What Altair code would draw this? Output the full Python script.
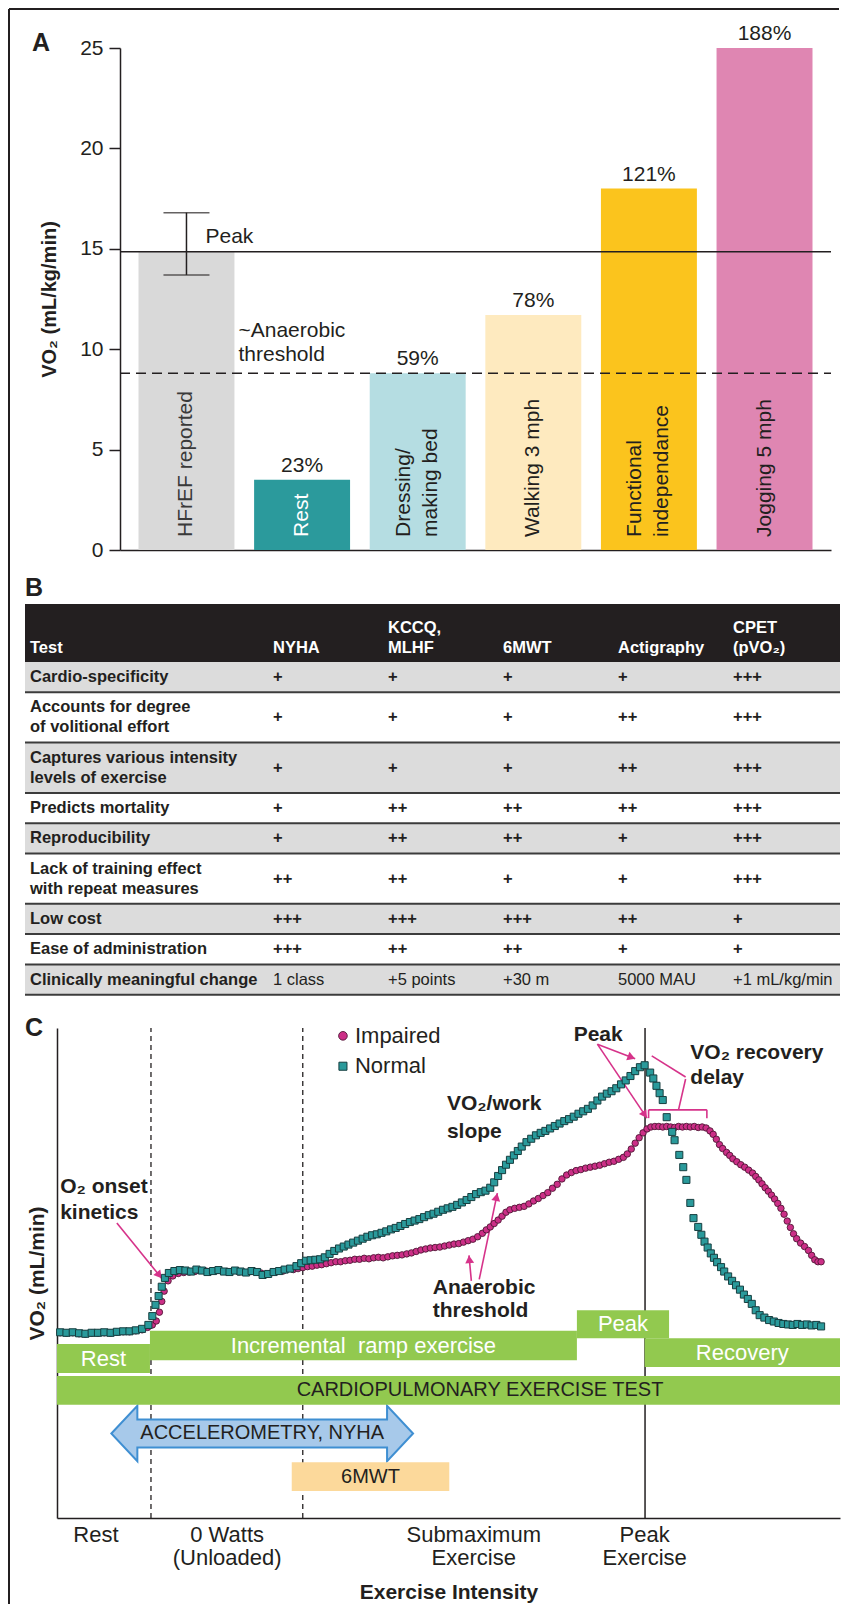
import math
import altair as alt
import pandas as pd

FONT = "Liberation Sans, Arial, Helvetica, sans-serif"
INK = "#231f20"

# ---------------- Panel A data ----------------
activities = ["HFrEF reported", "Rest", "Dressing/\nmaking bed", "Walking 3 mph",
              "Functional\nindependance", "Jogging 5 mph"]
vo2_means = [14.85, 3.5, 8.8, 11.7, 18.0, 25.0]
pct_of_peak = ["", "23%", "59%", "78%", "121%", "188%"]
bar_fill = ["#d9d9d9", "#2b9a9c", "#b5dde2", "#feeabf", "#fbc41d", "#df86b2"]
bar_text_fill = ["#3a3a3a", "#ffffff", "#231f20", "#231f20", "#231f20", "#231f20"]
peak_vo2 = 14.85
peak_range = [13.7, 16.8]
anaerobic_vo2 = 8.8
a_ticks = [0, 5, 10, 15, 20, 25]

# ---------------- Panel B data ----------------
test_names = ["Test", "NYHA", "KCCQ,\nMLHF", "6MWT", "Actigraphy", "CPET\n(pVO₂)"]
criteria = ["Cardio-specificity", "Accounts for degree\nof volitional effort",
            "Captures various intensity\nlevels of exercise", "Predicts mortality",
            "Reproducibility", "Lack of training effect\nwith repeat measures",
            "Low cost", "Ease of administration", "Clinically meaningful change"]
nyha = ["+", "+", "+", "+", "+", "++", "+++", "+++", "1 class"]
kccq = ["+", "+", "+", "++", "++", "++", "+++", "++", "+5 points"]
mwt6 = ["+", "+", "+", "++", "++", "+", "+++", "++", "+30 m"]
actigraphy = ["+", "++", "++", "++", "+", "+", "++", "+", "5000 MAU"]
cpet = ["+++", "+++", "+++", "+++", "+++", "+++", "+", "+", "+1 mL/kg/min"]

# ---------------- Panel C data ----------------
normal_rest = [(0.4, 37.9), (1.2, 37.8), (2.0, 37.9), (2.8, 37.7), (3.6, 37.6), (4.4, 37.8),
               (5.2, 37.8), (6.0, 37.9), (6.8, 37.8), (7.6, 38.0), (8.4, 38.1), (9.2, 38.1),
               (10.0, 38.3), (10.8, 38.6), (11.6, 39.4)]
normal_onset = [(12.1, 41.2), (12.5, 43.5), (12.9, 45.3), (13.3, 47.2), (13.7, 49.0),
                (14.2, 50.0), (14.9, 50.4), (15.6, 50.6), (16.3, 50.5), (17.0, 50.3), (17.7, 50.7),
                (18.4, 50.5), (19.1, 50.2), (19.8, 50.4), (20.5, 50.6), (21.2, 50.3), (21.9, 50.2),
                (22.6, 50.5), (23.3, 50.3), (24.0, 50.1), (24.7, 50.4), (25.4, 50.2), (26.1, 49.6),
                (26.8, 49.8), (27.5, 50.2), (28.2, 50.4), (28.9, 50.7), (29.6, 50.9)]
normal_ramp = [(30.4, 51.4), (31.0, 52.0), (31.6, 52.5), (32.2, 52.6), (32.8, 52.7), (33.4, 52.8),
               (34.0, 53.2), (34.6, 53.9), (35.2, 54.5), (35.8, 55.0), (36.4, 55.4), (37.0, 55.8),
               (37.6, 56.2), (38.2, 56.6), (38.8, 57.0), (39.4, 57.4), (40.0, 57.7), (40.6, 57.9),
               (41.2, 58.2), (41.8, 58.5), (42.4, 58.9), (43.0, 59.2), (43.6, 59.6), (44.2, 60.0),
               (44.8, 60.4), (45.4, 60.7), (46.0, 61.0), (46.6, 61.4), (47.2, 61.8), (47.8, 62.1),
               (48.4, 62.5), (49.0, 62.9), (49.6, 63.2), (50.2, 63.5), (50.8, 63.9), (51.4, 64.4),
               (52.0, 64.9), (52.6, 65.5), (53.2, 66.1), (53.8, 66.5), (54.4, 66.8), (55.0, 67.4),
               (55.5, 68.5), (56.0, 69.8), (56.5, 71.0), (57.0, 72.1), (57.5, 73.1), (58.0, 74.0),
               (58.5, 74.9), (59.0, 75.8), (59.6, 76.7), (60.2, 77.4), (60.8, 78.1), (61.4, 78.6),
               (62.0, 79.0), (62.6, 79.5), (63.2, 80.0), (63.8, 80.5), (64.4, 81.0), (65.0, 81.4),
               (65.6, 81.9), (66.2, 82.5), (66.8, 83.0), (67.4, 83.5), (68.0, 84.2), (68.6, 85.2),
               (69.2, 86.0), (69.8, 86.6), (70.4, 87.1), (71.0, 87.7), (71.6, 88.5), (72.2, 89.3),
               (72.8, 90.2), (73.4, 91.2), (74.0, 92.0), (74.6, 92.4)]
normal_recovery = [(75.3, 90.9), (75.7, 89.7), (76.1, 88.2), (76.5, 86.7), (76.9, 85.3), (77.4, 81.8),
                   (78.1, 78.8), (78.4, 77.1), (79.0, 74.1), (79.5, 71.6), (79.9, 69.0), (80.4, 64.3),
                   (80.8, 61.2), (81.4, 59.4), (81.8, 57.8), (82.2, 56.4), (82.6, 55.2), (83.0, 54.0),
                   (83.4, 53.1), (83.8, 52.2), (84.3, 51.2), (84.7, 50.3), (85.2, 49.3), (85.7, 48.4),
                   (86.2, 47.5), (86.7, 46.6), (87.2, 45.6), (87.7, 44.7), (88.2, 43.7), (88.7, 42.4),
                   (89.2, 41.4), (89.8, 40.9), (90.4, 40.4), (91.0, 40.1), (91.6, 39.8), (92.2, 39.6),
                   (92.8, 39.5), (93.4, 39.4), (94.0, 39.6), (94.6, 39.4), (95.2, 39.5), (95.8, 39.3),
                   (96.4, 39.4), (97.0, 39.1)]
impaired_rest = [(0.4, 37.8), (1.2, 37.7), (2.0, 37.8), (2.8, 37.6), (3.6, 37.5), (4.4, 37.7),
                 (5.2, 37.7), (6.0, 37.8), (6.8, 37.7), (7.6, 37.9), (8.4, 38.0), (9.2, 38.0),
                 (10.0, 38.2), (10.8, 38.4), (11.5, 38.9), (12.1, 39.4)]
impaired_onset = [(12.6, 40.2), (13.0, 42.0), (13.3, 44.2), (13.6, 46.3), (14.1, 48.4), (14.7, 49.4),
                  (15.4, 49.9), (16.1, 50.1), (16.8, 50.2), (17.5, 50.3), (18.9, 50.4), (20.3, 50.5),
                  (21.7, 50.3), (23.1, 50.2), (24.5, 50.3), (25.9, 50.0), (27.3, 50.1), (28.7, 50.4),
                  (30.0, 50.7)]
impaired_ramp = [(30.6, 50.9), (31.2, 51.1), (31.8, 51.3), (32.4, 51.4), (33.0, 51.6), (33.6, 51.7),
                 (34.2, 51.9), (34.8, 52.1), (35.4, 52.3), (36.0, 52.3), (36.6, 52.5), (37.2, 52.6),
                 (37.8, 52.8), (38.4, 52.8), (39.0, 53.0), (39.6, 52.9), (40.2, 53.1), (40.8, 53.2),
                 (41.4, 53.1), (42.0, 53.3), (42.6, 53.5), (43.2, 53.6), (43.8, 53.7), (44.4, 53.9),
                 (45.0, 54.1), (45.6, 54.4), (46.2, 54.7), (46.8, 54.9), (47.4, 55.1), (48.0, 55.2),
                 (48.6, 55.3), (49.2, 55.5), (49.8, 55.7), (50.4, 55.9), (51.0, 56.0), (51.6, 56.3),
                 (52.2, 56.6), (52.8, 56.9), (53.4, 57.4), (54.0, 58.1), (54.5, 58.8), (55.0, 59.4),
                 (55.5, 60.1), (56.0, 60.8), (56.5, 61.6), (57.0, 62.4), (57.5, 62.9), (58.1, 63.2),
                 (58.7, 63.4), (59.3, 63.6), (59.9, 64.1), (60.5, 64.7), (61.1, 65.2), (61.7, 65.8),
                 (62.3, 66.4), (62.9, 67.3), (63.5, 68.1), (64.1, 69.2), (64.7, 70.0), (65.3, 70.5),
                 (65.9, 70.9), (66.5, 71.1), (67.1, 71.4), (67.7, 71.6), (68.3, 71.8), (68.9, 72.0),
                 (69.5, 72.3), (70.1, 72.6), (70.7, 72.8), (71.3, 73.2), (71.9, 73.6), (72.4, 74.3),
                 (72.9, 75.3), (73.4, 76.5), (73.9, 77.6), (74.4, 78.6), (74.9, 79.4)]
impaired_recovery = [(75.4, 79.8), (75.9, 79.9), (76.4, 79.9), (76.9, 79.8), (77.4, 79.9), (77.9, 79.8),
                     (78.4, 79.7), (78.9, 79.9), (79.4, 79.8), (79.9, 79.9), (80.4, 79.8), (80.9, 79.9),
                     (81.4, 79.7), (81.9, 79.8), (82.4, 79.6), (82.9, 79.0), (83.3, 78.3), (83.7, 77.3),
                     (84.1, 76.2), (84.5, 75.4), (85.0, 74.6), (85.4, 74.0), (85.8, 73.3), (86.3, 72.7),
                     (86.8, 72.1), (87.3, 71.6), (87.8, 71.0), (88.3, 70.4), (88.7, 69.7), (89.1, 69.0),
                     (89.5, 68.2), (89.9, 67.4), (90.3, 66.7), (90.7, 65.9), (91.1, 65.1), (91.5, 64.2),
                     (91.9, 63.2), (92.3, 62.0), (92.7, 60.6), (93.1, 59.3), (93.5, 58.0), (93.9, 57.0),
                     (94.4, 56.1), (94.9, 55.4), (95.4, 54.6), (95.8, 53.6), (96.2, 52.7), (96.6, 52.3),
                     (97.0, 52.3)]

phase_x = [11.93, 31.2]          # dashed phase boundaries
peak_x = 74.65                   # peak exercise line
box_label = ["Rest", "Incremental\u00a0 ramp exercise", "Peak", "Recovery"]
box_x0 = [0.0, 11.8, 66.0, 74.6]
box_x1 = [11.8, 66.0, 77.7, 99.4]
box_y0 = [29.6, 32.2, 36.7, 30.8]
box_y1 = [35.5, 38.2, 42.4, 36.7]
cpet_box = [0.0, 99.4, 23.1, 29.0, 53.7]
mwt_box = [29.8, 49.8, 5.5, 11.4]
accel_arrow = [6.9, 45.2, 14.4, 20.1, 11.6, 22.9, 3.3]   # x0, x1, body y0/y1, head y0/y1, head length
x_label_pos = [4.95, 21.6, 52.9, 74.6]
x_label_text = ["Rest", "0 Watts\n(Unloaded)", "Submaximum\nExercise", "Peak\nExercise"]
arrows = [(7.6, 60.2, 13.3, 48.9), (52.6, 48.4, 52.3, 53.6), (53.6, 48.7, 55.9, 66.3),
          (68.6, 96.7, 73.4, 93.7), (68.6, 96.7, 74.9, 81.6)]
plain_lines = [(75.5, 94.3, 79.8, 90.0), (79.8, 89.6, 78.9, 83.3), (75.1, 83.3, 82.5, 83.3),
               (75.1, 83.3, 75.1, 81.6), (82.5, 83.3, 82.5, 81.6)]
note_text = ["O₂ onset", "kinetics", "VO₂/work", "slope", "Anaerobic", "threshold", "VO₂ recovery", "delay"]
note_x = [0.4, 0.4, 49.5, 49.5, 47.7, 47.7, 80.4, 80.4]
note_y = [67.6, 62.2, 84.4, 78.8, 46.9, 42.2, 95.0, 89.8]
peak_note = (68.7, 98.6)
legend_x = 36.3
legend_y = [98.4, 92.2]
legend_text = ["Impaired", "Normal"]

one = pd.DataFrame({"k": [0]})


def frame_rule(**enc):
    return alt.Chart(one).mark_rule(color=INK, strokeWidth=2).encode(**enc)


def letter(t, x, y):
    return alt.Chart(pd.DataFrame({"t": [t]})).mark_text(
        font=FONT, fontSize=25, fontWeight="bold", color=INK, align="center", baseline="middle"
    ).encode(x=alt.value(x), y=alt.value(y), text="t:N")


# All three panels share one plot origin (page x = 25); the figure frame sits at page x = 9.
PANEL_W = 815
A_H, B_H, C_H = 502, 450, 518     # panels are stacked flush: page y 48, 550, 1000
FRAME_BOTTOM = A_H + B_H + C_H + 86

# =============== Panel A ===============
A_OFF = 95     # y axis sits 95 px right of the shared origin
dfA = pd.DataFrame({"activity": activities, "vo2": vo2_means, "pct": pct_of_peak,
                    "fill": bar_fill, "tfill": bar_text_fill,
                    "lines": [a.count("\n") + 1 for a in activities]})
sxA = alt.Scale(domain=activities, range=[A_OFF, 806], paddingInner=0.17, paddingOuter=0.16)
syA = alt.Scale(domain=[0, 25], nice=False)
axA_x = alt.Axis(labels=False, ticks=False, title=None, domainColor=INK, domainWidth=1.5, grid=False)
axA_y = alt.Axis(values=a_ticks, title="VO₂ (mL/kg/min)", grid=False, tickSize=11, tickWidth=1.5,
                 tickColor=INK, domainColor=INK, domainWidth=1.5, labelFont=FONT, labelFontSize=21,
                 labelColor=INK, labelPadding=6, titleFont=FONT, titleFontSize=20,
                 titleFontWeight="bold", titleColor=INK, titlePadding=20, offset=-A_OFF)


def xA():
    return alt.X("activity:N", scale=sxA, axis=axA_x)


def yA(f):
    return alt.Y(f, scale=syA, axis=axA_y)


bars = alt.Chart(dfA).mark_bar().encode(x=xA(), y=yA("vo2:Q"), color=alt.Color("fill:N", scale=None))
at_rule = alt.Chart(pd.DataFrame({"v": [anaerobic_vo2]})).mark_rule(
    color=INK, strokeWidth=1.5, strokeDash=[10, 6]).encode(
    y=yA("v:Q"), x=alt.value(A_OFF), x2=alt.value(806))
peak_rule = alt.Chart(pd.DataFrame({"v": [peak_vo2]})).mark_rule(
    color=INK, strokeWidth=1.5).encode(y=yA("v:Q"), x=alt.value(A_OFF), x2=alt.value(806))
err_df = pd.DataFrame({"activity": [activities[0]], "lo": [peak_range[0]], "hi": [peak_range[1]]})
err_rule = alt.Chart(err_df).mark_rule(color=INK, strokeWidth=1.5).encode(
    x=xA(), y=yA("lo:Q"), y2="hi:Q")
err_caps = alt.Chart(err_df).transform_fold(["lo", "hi"], as_=["k", "v"]).mark_tick(
    orient="horizontal", size=46, thickness=1.5, color=INK).encode(x=xA(), y=yA("v:Q"))


def bar_label_layer(n_lines, shift):
    return alt.Chart(dfA).transform_filter(f"datum.lines == {n_lines}").transform_calculate(
        ylab="0.65").mark_text(
        angle=270, align="left", baseline="middle", lineBreak="\n", lineHeight=27,
        dy=shift, font=FONT, fontSize=21).encode(
        x=xA(), y=yA("ylab:Q"), color=alt.Color("tfill:N", scale=None), text="activity:N")


pct_labels = alt.Chart(dfA).mark_text(baseline="bottom", dy=-4, font=FONT, fontSize=21, color=INK).encode(
    x=xA(), y=yA("vo2:Q"), text="pct:N")
peak_txt = alt.Chart(pd.DataFrame({"activity": [activities[0]], "y": [15.6], "t": ["Peak"]})).mark_text(
    align="left", baseline="middle", dx=19, font=FONT, fontSize=21, color=INK).encode(
    x=xA(), y=yA("y:Q"), text="t:N")
at_txt = alt.Chart(pd.DataFrame({"activity": [activities[0]] * 2, "y": [10.9, 9.7],
                                 "t": ["~Anaerobic", "threshold"]})).mark_text(
    align="left", baseline="middle", dx=52, font=FONT, fontSize=21, color=INK).encode(
    x=xA(), y=yA("y:Q"), text="t:N")

panelA = alt.layer(
    bars, at_rule, peak_rule, err_rule, err_caps, bar_label_layer(1, 0), bar_label_layer(2, -13.5),
    pct_labels, peak_txt, at_txt,
    # figure frame (left and top edges) drawn once for the whole figure
    frame_rule(x=alt.value(-16), y=alt.value(-39), y2=alt.value(FRAME_BOTTOM)),
    frame_rule(x=alt.value(-16), x2=alt.value(PANEL_W - 1), y=alt.value(-39)),
    letter("A", 16, -5),
).properties(width=PANEL_W, height=A_H)

# =============== Panel B ===============
HEADER_H = 58
ROW_H1, ROW_H2 = 30.3, 50.3
B_TOP = 54      # table starts 54 px below the panel top
col_x = [5] + [248 + 115 * i for i in range(5)]

row_rows = []
top = HEADER_H
for i, c in enumerate(criteria):
    h = ROW_H2 if "\n" in c else ROW_H1
    row_rows.append({"i": i, "top": top, "bot": top + h, "mid": top + h / 2, "label": c,
                     "lines": c.count("\n") + 1})
    top += h
rows_df = pd.DataFrame(row_rows)
gray_df = rows_df[rows_df["i"] % 2 == 0]
sep_df = pd.DataFrame({"y": list(rows_df["top"][1:]) + [rows_df["bot"].iloc[-1]]})
header_df = pd.DataFrame({"x0": [0], "x1": [PANEL_W], "y0": [0], "y1": [HEADER_H]})
head_text_df = pd.DataFrame({"x": col_x, "y": [HEADER_H - 6] * 6, "t": test_names,
                             "lines": [t.count("\n") + 1 for t in test_names]})
cells = []
for j, col in enumerate([nyha, kccq, mwt6, actigraphy, cpet]):
    for i, v in enumerate(col):
        cells.append({"x": col_x[j + 1], "y": row_rows[i]["mid"], "t": v, "last": i == len(col) - 1})
cells_df = pd.DataFrame(cells)

sxB = alt.Scale(domain=[0, PANEL_W], nice=False, zero=False)
syB = alt.Scale(domain=[-B_TOP, B_H - B_TOP], nice=False, zero=False, reverse=True)


def xB(f):
    return alt.X(f, scale=sxB, axis=None)


def yB(f):
    return alt.Y(f, scale=syB, axis=None)


header_rect = alt.Chart(header_df).mark_rect(color=INK).encode(
    x=xB("x0:Q"), x2="x1:Q", y=yB("y0:Q"), y2="y1:Q")
gray_rect = alt.Chart(gray_df).transform_calculate(x0="0", x1=str(PANEL_W)).mark_rect(color="#dcdcdc").encode(
    x=xB("x0:Q"), x2="x1:Q", y=yB("top:Q"), y2="bot:Q")
sep_rules = alt.Chart(sep_df).transform_calculate(x0="0", x1=str(PANEL_W)).mark_rule(
    color="#3c3c3c", strokeWidth=2).encode(y=yB("y:Q"), x=xB("x0:Q"), x2="x1:Q")


def head_layer(n_lines, shift):
    return alt.Chart(head_text_df[head_text_df["lines"] == n_lines]).mark_text(
        align="left", baseline="bottom", lineBreak="\n", lineHeight=20, dy=shift, font=FONT,
        fontSize=16.5, fontWeight="bold", color="white").encode(x=xB("x:Q"), y=yB("y:Q"), text="t:N")


def crit_layer(n_lines, shift):
    return alt.Chart(rows_df[rows_df["lines"] == n_lines]).transform_calculate(x="5").mark_text(
        align="left", baseline="middle", lineBreak="\n", lineHeight=20, dy=shift, font=FONT,
        fontSize=16.5, fontWeight="bold", color=INK).encode(x=xB("x:Q"), y=yB("mid:Q"), text="label:N")


val_bold = alt.Chart(cells_df[~cells_df["last"]]).mark_text(
    align="left", baseline="middle", font=FONT, fontSize=16.5, fontWeight="bold", color=INK).encode(
    x=xB("x:Q"), y=yB("y:Q"), text="t:N")
val_reg = alt.Chart(cells_df[cells_df["last"]]).mark_text(
    align="left", baseline="middle", font=FONT, fontSize=16.5, color=INK).encode(
    x=xB("x:Q"), y=yB("y:Q"), text="t:N")

panelB = alt.layer(
    header_rect, gray_rect, sep_rules, head_layer(1, 0), head_layer(2, -20),
    crit_layer(1, 0), crit_layer(2, -10), val_bold, val_reg,
    letter("B", 9, 38),
).properties(width=PANEL_W, height=B_H)

# =============== Panel C ===============
C_OFF = 32      # y axis 32 px right of the shared origin
C_PLOT_TOP = 28
XMAX = 99.4
SX, SY = (PANEL_W - C_OFF) / XMAX, (C_H - C_PLOT_TOP) / 100.0
sxC = alt.Scale(domain=[0, XMAX], range=[C_OFF, PANEL_W], nice=False, zero=False)
syC = alt.Scale(domain=[0, 100], range=[C_H, C_PLOT_TOP], nice=False, zero=False)
axC_x = alt.Axis(labels=False, ticks=False, grid=False, domainColor=INK, domainWidth=1.5,
                 title="Exercise Intensity", titleFont=FONT, titleFontSize=21, titleFontWeight="bold",
                 titleColor=INK, titlePadding=63)
axC_y = alt.Axis(labels=False, ticks=False, grid=False, domainColor=INK, domainWidth=1.5,
                 title="VO₂ (mL/min)", titleFont=FONT, titleFontSize=21, titleFontWeight="bold",
                 titleColor=INK, titlePadding=10, offset=-C_OFF)


def xC(f):
    return alt.X(f, scale=sxC, axis=axC_x)


def yC(f):
    return alt.Y(f, scale=syC, axis=axC_y)


def pts(lists):
    xs, ys = [], []
    for l in lists:
        for x, y in l:
            xs.append(x)
            ys.append(y)
    return pd.DataFrame({"x": xs, "y": ys})


normal_df = pts([normal_rest, normal_onset, normal_ramp, normal_recovery])
impaired_df = pts([impaired_rest, impaired_onset, impaired_ramp, impaired_recovery])

vr = pd.DataFrame({"x": phase_x, "y0": [0, 0], "y1": [100, 100]})
dashed = alt.Chart(vr).mark_rule(color=INK, strokeWidth=1.3, strokeDash=[5, 4]).encode(
    x=xC("x:Q"), y=yC("y0:Q"), y2="y1:Q")
peak_line = alt.Chart(pd.DataFrame({"x": [peak_x], "y0": [0], "y1": [100]})).mark_rule(
    color=INK, strokeWidth=1.5).encode(x=xC("x:Q"), y=yC("y0:Q"), y2="y1:Q")

# double-headed arrow as one custom symbol built from its extent
ax0, ax1, by0, by1, hy0, hy1, hl = accel_arrow
ym = (by0 + by1) / 2
L_px = (ax1 - ax0) * SX
half = L_px / 2
hb = 1 - hl * SX / half
hh = (hy1 - hy0) / 2 * SY / half
bh = (by1 - by0) / 2 * SY / half
arrow_path = (f"M-1,0L{-hb:.4f},{-hh:.4f}L{-hb:.4f},{-bh:.4f}L{hb:.4f},{-bh:.4f}L{hb:.4f},{-hh:.4f}"
              f"L1,0L{hb:.4f},{hh:.4f}L{hb:.4f},{bh:.4f}L{-hb:.4f},{bh:.4f}L{-hb:.4f},{hh:.4f}Z")
accel = alt.Chart(pd.DataFrame({"x": [(ax0 + ax1) / 2], "y": [ym]})).mark_point(
    shape=arrow_path, size=L_px ** 2, filled=True, fill="#a7c9ea", stroke="#3f8fd2",
    strokeWidth=2, opacity=1).encode(x=xC("x:Q"), y=yC("y:Q"))

mwt_df = pd.DataFrame({"x0": [mwt_box[0]], "x1": [mwt_box[1]], "y0": [mwt_box[2]], "y1": [mwt_box[3]]})
mwt = alt.Chart(mwt_df).mark_rect(color="#fcd99b").encode(x=xC("x0:Q"), x2="x1:Q", y=yC("y0:Q"), y2="y1:Q")
boxes_df = pd.DataFrame({"t": box_label + ["CARDIOPULMONARY EXERCISE TEST"],
                         "x0": box_x0 + [cpet_box[0]], "x1": box_x1 + [cpet_box[1]],
                         "y0": box_y0 + [cpet_box[2]], "y1": box_y1 + [cpet_box[3]]})
boxes = alt.Chart(boxes_df).mark_rect(color="#92c94f").encode(
    x=xC("x0:Q"), x2="x1:Q", y=yC("y0:Q"), y2="y1:Q")
white_lab = alt.Chart(boxes_df.iloc[:4]).transform_calculate(
    cx="(datum.x0 + datum.x1) / 2", cy="(datum.y0 + datum.y1) / 2").mark_text(
    font=FONT, fontSize=22, color="white", baseline="middle").encode(
    x=xC("cx:Q"), y=yC("cy:Q"), text="t:N")
dark_lab_df = pd.DataFrame({
    "t": ["CARDIOPULMONARY EXERCISE TEST", "ACCELEROMETRY, NYHA", "6MWT"],
    "cx": [cpet_box[4], (ax0 + ax1) / 2, (mwt_box[0] + mwt_box[1]) / 2],
    "cy": [(cpet_box[2] + cpet_box[3]) / 2, ym, (mwt_box[2] + mwt_box[3]) / 2]})
dark_lab = alt.Chart(dark_lab_df).mark_text(font=FONT, fontSize=20, color=INK, baseline="middle").encode(
    x=xC("cx:Q"), y=yC("cy:Q"), text="t:N")

MAG = "#d6338a"
seg_rows = []
head_rows = []
for (x1, y1, x2, y2) in arrows:
    seg_rows.append({"x1": x1, "y1": y1, "x2": x2, "y2": y2})
    sdx, sdy = (x2 - x1) * SX, -(y2 - y1) * SY
    L = math.hypot(sdx, sdy)
    ux, uy = sdx / L, sdy / L
    back = 4.0
    head_rows.append({"x": x2 - ux * back / SX, "y": y2 + uy * back / SY,
                      "ang": math.degrees(math.atan2(ux, -uy)) % 360})
for (x1, y1, x2, y2) in plain_lines:
    seg_rows.append({"x1": x1, "y1": y1, "x2": x2, "y2": y2})
segs = alt.Chart(pd.DataFrame(seg_rows)).mark_rule(color=MAG, strokeWidth=1.6).encode(
    x=xC("x1:Q"), y=yC("y1:Q"), x2="x2:Q", y2="y2:Q")
heads = alt.Chart(pd.DataFrame(head_rows)).mark_point(
    shape="triangle-up", filled=True, size=80, color=MAG, opacity=1).encode(
    x=xC("x:Q"), y=yC("y:Q"), angle=alt.Angle("ang:Q", scale=None))

impaired = alt.Chart(impaired_df).mark_circle(
    size=42, fill="#cc2f87", stroke="#4f1736", strokeWidth=0.9, opacity=1).encode(x=xC("x:Q"), y=yC("y:Q"))
normal = alt.Chart(normal_df).mark_square(
    size=50, fill="#2a9a9b", stroke="#173f40", strokeWidth=1, opacity=1).encode(x=xC("x:Q"), y=yC("y:Q"))

leg_df = pd.DataFrame({"x": [legend_x] * 2, "y": legend_y, "t": legend_text})
leg_c = alt.Chart(leg_df.iloc[:1]).mark_circle(
    size=75, fill="#cc2f87", stroke="#4f1736", strokeWidth=0.9, opacity=1).encode(x=xC("x:Q"), y=yC("y:Q"))
leg_s = alt.Chart(leg_df.iloc[1:]).mark_square(
    size=65, fill="#2a9a9b", stroke="#173f40", strokeWidth=1, opacity=1).encode(x=xC("x:Q"), y=yC("y:Q"))
leg_t = alt.Chart(leg_df).mark_text(
    align="left", baseline="middle", dx=12, font=FONT, fontSize=22, color=INK).encode(
    x=xC("x:Q"), y=yC("y:Q"), text="t:N")

notes = alt.Chart(pd.DataFrame({"x": note_x, "y": note_y, "t": note_text})).mark_text(
    align="left", baseline="middle", font=FONT, fontSize=21, fontWeight="bold", color=INK).encode(
    x=xC("x:Q"), y=yC("y:Q"), text="t:N")
peak_lab = alt.Chart(pd.DataFrame({"x": [peak_note[0]], "y": [peak_note[1]], "t": ["Peak"]})).mark_text(
    align="center", baseline="middle", font=FONT, fontSize=21, fontWeight="bold", color=INK).encode(
    x=xC("x:Q"), y=yC("y:Q"), text="t:N")
xlabs = alt.Chart(pd.DataFrame({"x": x_label_pos, "t": x_label_text})).transform_calculate(y="-1.4").mark_text(
    align="center", baseline="top", lineBreak="\n", lineHeight=23, font=FONT, fontSize=22, color=INK).encode(
    x=xC("x:Q"), y=yC("y:Q"), text="t:N")

panelC = alt.layer(
    dashed, peak_line, accel, mwt, boxes, white_lab, dark_lab, segs, heads, impaired, normal,
    leg_c, leg_s, leg_t, notes, peak_lab, xlabs,
    letter("C", 9, 28),
).properties(width=PANEL_W, height=C_H)

chart = alt.vconcat(panelA, panelB, panelC, spacing=0, bounds="flush").properties(
    padding=0, background="white").configure(font=FONT).configure_view(
    strokeWidth=0, stroke="transparent", fill="transparent")

chart.save("out.html", embed_options={"renderer": "svg", "actions": False})
